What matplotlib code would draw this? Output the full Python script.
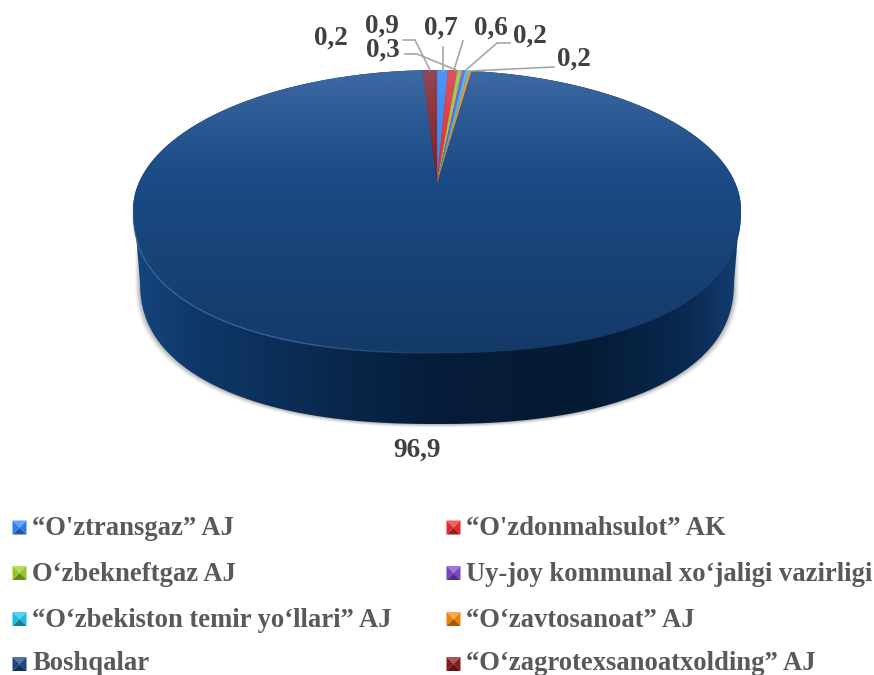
import numpy as np
import matplotlib
matplotlib.use("Agg")
import matplotlib.pyplot as plt
from matplotlib.patches import Polygon
from matplotlib.collections import LineCollection
from matplotlib.colors import LinearSegmentedColormap, to_rgb, to_rgba

# ---- data ----
categories = ["“O'ztransgaz” AJ", "“O'zdonmahsulot” AK", "O‘zbekneftgaz AJ",
              "Uy-joy kommunal xo‘jaligi vazirligi", "“O‘zbekiston temir yo‘llari” AJ",
              "“O‘zavtosanoat” AJ", "Boshqalar", "“O‘zagrotexsanoatxolding” AJ"]
values = [0.7, 0.6, 0.3, 0.2, 0.2, 0.2, 96.9, 0.9]
colors = ["#2f86f5", "#ee2a2a", "#9ccf2a", "#7d48cc", "#1fc4f0", "#f98a10", "#1a4a84", "#8c1c1c"]
label_texts = ["0,7", "0,6", "0,3", "0,2", "0,2", "0,2", "96,9", "0,9"]
label_xy = [(441, 28), (491, 28), (383, 50), (530, 36), (574, 59), (331, 38), (417, 450), (382, 26)]
leaders = [[(443, 47), (443, 71)], [(463, 41), (454, 70)],
           [(405, 54), (417, 54), (456, 70)], [(510, 43), (497, 43), (466, 70)],
           [(554, 67), (470, 71)], None, None, [(403, 40), (415, 40), (430, 70)]]

# ---- pie geometry (perspective projection of a disc) ----
CX, CY, A, B, K, DEPTH = 437.0, 183.0, 298.0, 134.0, 0.197, 71.0
MIDY, RX, RY0, RY1, P = 210.0, 304.0, 139.9, 143.0, 2.3

def proj(theta):
    """Rim point for theta, clockwise from 12 o'clock."""
    u, v = np.sin(theta), np.cos(theta)
    w = 1 + K * v
    x, y = CX + A * u / w, CY - B * v / w
    # the nearer half of the rim bulges a little beyond a true ellipse
    dx, dy = (x - CX) / RX, (y - MIDY) / RY0
    n = np.hypot(dx, dy)
    dx, dy = dx / n, dy / n
    lower = dy > 0
    x2 = np.where(lower, np.sign(dx) * np.abs(dx) ** (2 / P) * RX, dx * RX)
    y2 = np.where(lower, np.abs(dy) ** (2 / P) * RY1, dy * RY0)
    return CX + x2, MIDY + y2

fig = plt.figure(figsize=(8.74, 6.75), dpi=100)
ax = fig.add_axes([0, 0, 1, 1])
ax.set_xlim(0, 874); ax.set_ylim(675, 0); ax.axis("off")
SERIF = "Liberation Serif"

ex, ey = proj(np.linspace(0, 2 * np.pi, 721))
XS = 0.977  # bottom rim is narrower than the top rim

# outline of the whole solid: upper half of top rim + lower half of shifted bottom rim
upper = np.linspace(-np.pi / 2 - .35, np.pi / 2 + .35, 300)
ux, uy = proj(upper)
lower = np.linspace(np.pi / 2 - .35, 3 * np.pi / 2 + .35, 400)
bx, by = proj(lower)
bx = CX + (bx - CX) * XS
by = by + DEPTH
keep = by >= MIDY + DEPTH
solid = np.vstack([np.column_stack([ux, uy]), np.column_stack([bx[keep], by[keep]])])

# soft shadow below the side wall
for off, al in [(5, .05), (4, .07), (3, .09), (2, .12), (1, .15)]:
    xs = CX + (bx[keep] - CX) * (1 + off / 290)
    sh = np.vstack([[(xs[0], MIDY + 40)], np.column_stack([xs, by[keep] + off * .7]), [(xs[-1], MIDY + 40)]])
    ax.add_patch(Polygon(sh, closed=True, fc="#555555", ec="none", alpha=al, zorder=1))

# side wall
side_poly = Polygon(solid, closed=True, fc="none", ec="none")
ax.add_patch(side_poly)
side_cmap = LinearSegmentedColormap.from_list("side", [
    (0, "#14457f"), (.10, "#0f3868"), (.3, "#0a2a50"), (.5, "#061c38"),
    (.75, "#051b34"), (.92, "#0a2a52"), (1, "#123e74")])
im = ax.imshow(np.linspace(0, 1, 400)[None, :], extent=(133, 741, 430, 70), cmap=side_cmap,
               aspect="auto", zorder=2)
im.set_clip_path(side_poly)

# top face: one wedge per value
fr = np.cumsum([0] + list(values)) / np.sum(values) * 2 * np.pi
for i, v in enumerate(values):
    th = np.linspace(fr[i], fr[i + 1], max(3, int(v * 8)))
    wx, wy = proj(th)
    pts = np.vstack([[CX, CY], np.column_stack([wx, wy])])
    ax.add_patch(Polygon(pts, closed=True, fc=colors[i], ec=colors[i] if v < 5 else "none",
                         lw=.2, zorder=3))

# vertical lighting over the top face
face_clip = Polygon(np.column_stack([ex, ey]), closed=True, fc="none", ec="none")
ax.add_patch(face_clip)
yy = np.linspace(0, 1, 300)
ov = np.zeros((300, 1, 4))
light = np.clip((0.40 - yy) / 0.40, 0, 1)
dark = np.clip((yy - 0.40) / 0.60, 0, 1)
ov[:, 0, :3] = np.where(light[:, None] > 0, np.array(to_rgb("#9fc0ff"))[None, :], 0.0)
ov[:, 0, 3] = 0.27 * light ** 1.2 + 0.22 * dark
im2 = ax.imshow(ov, extent=(133, 741, 354, 70), aspect="auto", zorder=4)
im2.set_clip_path(face_clip)

# rim highlight along the lower edge, fading out at both ends
rim = np.linspace(np.deg2rad(172), np.deg2rad(262), 120)
rx, ry = proj(rim)
segs = np.stack([np.column_stack([rx[:-1], ry[:-1]]), np.column_stack([rx[1:], ry[1:]])], axis=1)
s = np.linspace(0, 1, len(segs))
alph = np.clip(s / .3, 0, 1) * np.clip((1 - s) / .15, 0, 1) * .7
rgba = [to_rgba("#4a76ae", a) for a in alph]
ax.add_collection(LineCollection(segs, colors=rgba, linewidths=1.0, zorder=5))

# leader lines and labels
for pts in leaders:
    if pts:
        p = np.array(pts)
        ax.plot(p[:, 0], p[:, 1], color="#a6a6a6", lw=1.2, zorder=6, solid_joinstyle="miter")
for s_, (x, y) in zip(label_texts, label_xy):
    ax.text(x, y, s_, family=SERIF, weight="bold", fontsize=19.5, color="#404040",
            ha="center", va="center", zorder=7)

# legend
col_x = [12.5, 446.5]
icon_y = [527.5, 573, 619, 664]
base_y = [535, 581, 627, 669.5]
def shade(c, f):
    r = np.array(to_rgb(c))
    return tuple(r * f if f <= 1 else r + (1 - r) * (f - 1))
for i, name in enumerate(categories):
    x0 = col_x[i % 2]; yc = icon_y[i // 2]
    S = 14; y0 = yc - 7
    mid = (x0 + S / 2, y0 + S / 2)
    c = colors[i]
    corners = [(x0, y0), (x0 + S, y0), (x0 + S, y0 + S), (x0, y0 + S)]
    for j, f in enumerate([1.25, .95, .65, .95]):
        ax.add_patch(Polygon([corners[j], corners[(j + 1) % 4], mid], closed=True,
                             fc=shade(c, f), ec="none", zorder=6))
    ax.text(x0 + 20, base_y[i // 2], name, family=SERIF, weight="bold", fontsize=19.2,
            color="#595959", ha="left", va="baseline", zorder=7)

ax.set_xlim(0, 874); ax.set_ylim(675, 0)
fig.savefig("out.png", dpi=100, facecolor="white")
